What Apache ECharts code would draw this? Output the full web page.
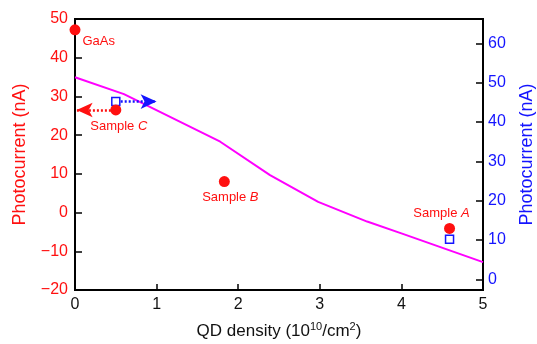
<!DOCTYPE html>
<html>
<head>
<meta charset="utf-8">
<script src="https://cdn.jsdelivr.net/npm/echarts@6/dist/echarts.min.js"></script>
<style>
  html, body { margin: 0; padding: 0; background: #fff; }
  #chart { width: 537px; height: 344px; }
</style>
</head>
<body>
<div id="chart"></div>
<script>
// measured data
var sampleNames = ['GaAs', 'C', 'B', 'A'];
var redX = [0, 0.5, 1.83, 4.59];
var redY = [47.2, 26.5, 8.0, -4.1];          // left axis (nA)
var blueX = [0.5, 4.59];
var blueY = [45.2, 10.2];                     // right axis (nA)
var lineX = [0, 0.6, 1.78, 2.39, 2.98, 3.58, 4.0, 5.0];
var lineY = [51.4, 47.1, 35.0, 26.5, 19.7, 14.7, 11.7, 4.4];
var xTicks = [0, 1, 2, 3, 4, 5];
var rightTicks = [0, 10, 20, 30, 40, 50, 60];
// arrows: [fromX, toX, y]
var redArrow = [0.44, 0.02, 26.5];
var blueArrow = [0.56, 1.0, 45.2];

var FONT = '"Liberation Sans", Arial, Helvetica, sans-serif';
var RED = '#ff1010';
var BLUE = '#1414ff';

var labelPos = {
    GaAs: {position: 'right', distance: 2, offset: [0, 12]},
    C: {position: 'bottom', distance: 4, offset: [3, 0]},
    B: {position: 'bottom', distance: 4, offset: [6, 0]},
    A: {position: 'top', distance: 3, offset: [-8, 0]}
};

var redData = redX.map(function (x, i) {
    var n = sampleNames[i];
    return {
        value: [x, redY[i]],
        name: n,
        label: Object.assign({show: true}, labelPos[n])
    };
});

var minus = function (v) { return v < 0 ? '\u2212' + Math.abs(v) : String(v); };

var chart = echarts.init(document.getElementById('chart'));
chart.setOption({
    animation: false,
    textStyle: {fontFamily: FONT},
    grid: {left: 75, right: 54, top: 19, bottom: 54, show: true, borderColor: '#000', borderWidth: 2,
        outerBoundsMode: 'none'},
    xAxis: {
        type: 'value', min: 0, max: 5, interval: 1,
        axisLine: {onZero: false, lineStyle: {color: '#000', width: 2}},
        axisTick: {inside: true, length: 6, lineStyle: {color: '#000', width: 1.5}},
        splitLine: {show: false},
        axisLabel: {color: '#111', fontSize: 16, margin: 7, fontFamily: FONT,
            customValues: xTicks},
        name: '{a|QD density (10}{s|10}{a|/cm}{s|2}{a|)}',
        nameLocation: 'middle', nameGap: 31,
        nameTextStyle: {
            rich: {
                a: {fontSize: 17, color: '#111', fontFamily: FONT, lineHeight: 20},
                s: {fontSize: 11, color: '#111', fontFamily: FONT, verticalAlign: 'top', lineHeight: 20}
            }
        }
    },
    yAxis: [{
        type: 'value', min: -20, max: 50, interval: 10,
        axisLine: {show: true, onZero: false, lineStyle: {color: '#000', width: 2}},
        axisTick: {show: true, inside: true, length: 7, lineStyle: {color: '#000', width: 1.5}},
        splitLine: {show: false},
        axisLabel: {color: RED, fontSize: 16, margin: 7, fontFamily: FONT, formatter: minus},
        name: 'Photocurrent (nA)', nameLocation: 'middle', nameGap: 46,
        nameTextStyle: {color: RED, fontSize: 18, fontFamily: FONT}
    }, {
        type: 'value', min: -2.7, max: 66.2, position: 'right',
        axisLine: {show: true, onZero: false, lineStyle: {color: '#000', width: 2}},
        axisTick: {show: true, inside: true, length: 7, lineStyle: {color: '#000', width: 1.5},
            customValues: rightTicks},
        splitLine: {show: false},
        axisLabel: {color: BLUE, fontSize: 16, margin: 5, fontFamily: FONT, customValues: rightTicks},
        name: 'Photocurrent (nA)', nameLocation: 'middle', nameGap: 35,
        nameTextStyle: {color: BLUE, fontSize: 18, fontFamily: FONT}
    }],
    series: [{
        type: 'line', yAxisIndex: 1, symbol: 'none',
        data: lineX.map(function (x, i) { return [x, lineY[i]]; }),
        lineStyle: {color: '#ff00ff', width: 2}
    }, {
        type: 'scatter', yAxisIndex: 1, symbol: 'rect', symbolSize: 8,
        data: blueX.map(function (x, i) { return [x, blueY[i]]; }),
        itemStyle: {color: '#fff', borderColor: BLUE, borderWidth: 1.5, opacity: 1},
        markLine: {
            silent: true, symbol: ['none', 'arrow'], symbolSize: [11, 16],
            label: {show: false},
            lineStyle: {color: BLUE, type: [2, 2], width: 2.5},
            data: [[{coord: [blueArrow[0], blueArrow[2]]}, {coord: [blueArrow[1], blueArrow[2]]}]]
        }
    }, {
        type: 'scatter', yAxisIndex: 0, symbol: 'circle', symbolSize: 11, z: 3,
        data: redData,
        itemStyle: {color: RED, opacity: 1},
        label: {
            color: RED, fontSize: 13, fontFamily: FONT,
            formatter: function (p) {
                return p.name === 'GaAs' ? 'GaAs' : '{a|Sample }{i|' + p.name + '}';
            },
            rich: {
                a: {color: RED, fontSize: 13, fontFamily: FONT},
                i: {color: RED, fontSize: 13, fontFamily: FONT, fontStyle: 'italic'}
            }
        },
        markLine: {
            silent: true, symbol: ['none', 'arrow'], symbolSize: [11, 16],
            label: {show: false},
            lineStyle: {color: RED, type: [2, 2], width: 2.5},
            data: [[{coord: [redArrow[0], redArrow[2]]}, {coord: [redArrow[1], redArrow[2]]}]]
        }
    }]
});
</script>
</body>
</html>
